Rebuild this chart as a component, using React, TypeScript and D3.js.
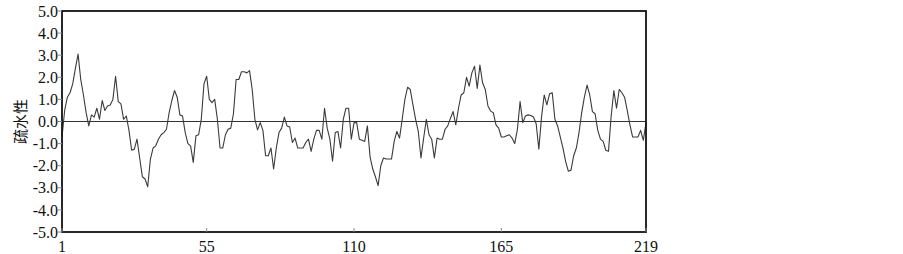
import React, { useEffect, useRef } from "react";
import * as d3 from "d3";

// 疏水性 values, residue 1..219
const hydro: number[] = [
  -0.7, 0.5, 1.1, 1.3, 1.7, 2.4, 3.05, 1.9, 1.2, 0.4,
  -0.2, 0.3, 0.2, 0.6, 0.1, 0.95, 0.5, 0.7, 0.75, 1.0,
  2.05, 0.9, 0.8, 0.1, 0.25, -0.4, -1.3, -1.25, -0.8, -1.65,
  -2.5, -2.6, -2.95, -1.7, -1.2, -1.1, -0.8, -0.6, -0.5, -0.35,
  0.4, 0.95, 1.4, 1.1, 0.3, 0.25, -0.5, -1.0, -1.1, -1.85,
  -0.65, -0.6, 0.1, 1.7, 2.05, 1.0, 0.85, 1.0, 0.1, -1.2,
  -1.2, -0.6, -0.35, -0.3, 0.35, 1.9, 1.9, 2.25, 2.25, 2.2,
  2.3, 1.45, 0.1, -0.38, -0.05, -0.4, -1.55, -1.55, -1.2, -2.15,
  -1.2, -0.5, -0.3, 0.2, -0.2, -0.25, -0.95, -0.75, -1.2, -1.2,
  -1.2, -0.95, -0.8, -1.35, -0.8, -0.4, -0.4, -0.8, 0.6, -0.3,
  -0.8, -1.8, -0.5, -0.45, -1.2, 0.1, 0.6, 0.6, -0.8, -0.05,
  -0.05, -0.8, -0.85, -0.9, -0.2, -1.6, -2.15, -2.5, -2.9, -2.0,
  -1.65, -1.7, -1.7, -1.7, -0.9, -0.45, -0.75, 0.1, 1.0, 1.55,
  1.45, 0.75, 0.1, -0.45, -1.65, -0.75, 0.1, -0.6, -0.8, -1.65,
  -0.75, -0.8, -0.8, -0.35, -0.2, 0.15, 0.45, -0.15, 0.6, 1.2,
  1.3, 2.0, 1.6, 2.2, 2.5, 1.5, 2.55, 1.75, 1.45, 0.7,
  0.47, 0.4, -0.15, -0.3, -0.7, -0.7, -0.65, -0.6, -0.75, -1.0,
  -0.35, 0.9, -0.05, 0.25, 0.3, 0.27, 0.2, -0.1, -1.25, 0.2,
  1.2, 0.75, 1.25, 1.3, 0.1, -0.2, -0.7, -1.2, -1.8, -2.25,
  -2.2, -1.55, -1.2, -0.5, 0.4, 1.1, 1.65, 1.2, 0.45, 0.35,
  -0.4, -0.8, -0.9, -1.3, -1.35, 0.25, 1.4, 0.6, 1.45, 1.3,
  1.1, 0.5, -0.15, -0.7, -0.7, -0.7, -0.4, -0.85, -0.05,
];

const xTicks = [1, 55, 110, 165, 219];
const yTicks = [5, 4, 3, 2, 1, 0, -1, -2, -3, -4, -5];
const yTitle = "疏水性";

const App: React.FC = () => {
  const svgRef = useRef<SVGSVGElement>(null);

  useEffect(() => {
    document.body.style.margin = "0";
    const svg = d3.select(svgRef.current);
    svg.html("");

    const left = 62;
    const right = 646;
    const top = 11;
    const bottom = 232;

    const x = d3.scaleLinear().domain([1, 219]).range([left, right]);
    const y = d3.scaleLinear().domain([-5, 5]).range([bottom, top]);
    const font = "Liberation Serif, Times New Roman, DejaVu Serif, serif";

    // zero line
    svg
      .append("line")
      .attr("x1", left)
      .attr("x2", right)
      .attr("y1", y(0))
      .attr("y2", y(0))
      .attr("stroke", "#333")
      .attr("stroke-width", 1.2);

    const line = d3
      .line<number>()
      .x((_, i) => x(i + 1))
      .y((d) => y(d));

    svg
      .append("path")
      .datum(hydro)
      .attr("fill", "none")
      .attr("stroke", "#3a3a3a")
      .attr("stroke-width", 1.1)
      .attr("stroke-linejoin", "round")
      .attr("d", line);

    // frame
    svg
      .append("rect")
      .attr("x", left)
      .attr("y", top)
      .attr("width", right - left)
      .attr("height", bottom - top)
      .attr("fill", "none")
      .attr("stroke", "#111")
      .attr("stroke-width", 1.8);

    // y ticks
    yTicks.forEach((t) => {
      svg
        .append("line")
        .attr("x1", left - 4)
        .attr("x2", left)
        .attr("y1", y(t))
        .attr("y2", y(t))
        .attr("stroke", "#888")
        .attr("stroke-width", 1);
      svg
        .append("text")
        .attr("x", left - 4)
        .attr("y", y(t))
        .attr("dy", "0.35em")
        .attr("text-anchor", "end")
        .style("font-family", font)
        .attr("font-size", 16)
        .attr("fill", "#111")
        .text(t.toFixed(1));
    });

    // x ticks
    xTicks.forEach((t) => {
      svg
        .append("line")
        .attr("x1", x(t))
        .attr("x2", x(t))
        .attr("y1", bottom)
        .attr("y2", bottom - 4)
        .attr("stroke", "#888")
        .attr("stroke-width", 1);
      svg
        .append("text")
        .attr("x", x(t))
        .attr("y", 252)
        .attr("text-anchor", "middle")
        .style("font-family", font)
        .attr("font-size", 16)
        .attr("fill", "#111")
        .text(String(t));
    });

    svg
      .append("text")
      .attr("transform", `translate(21,${y(0)}) rotate(-90)`)
      .attr("text-anchor", "middle")
      .attr("dy", "0.35em")
      .style("font-family", "Noto Sans CJK SC, sans-serif")
      .attr("font-size", 15)
      .attr("fill", "#111")
      .text(yTitle);
  }, []);

  return (
    <svg
      ref={svgRef}
      width={903}
      height={254}
      style={{ display: "block", background: "#fff" }}
    />
  );
};

export default App;
